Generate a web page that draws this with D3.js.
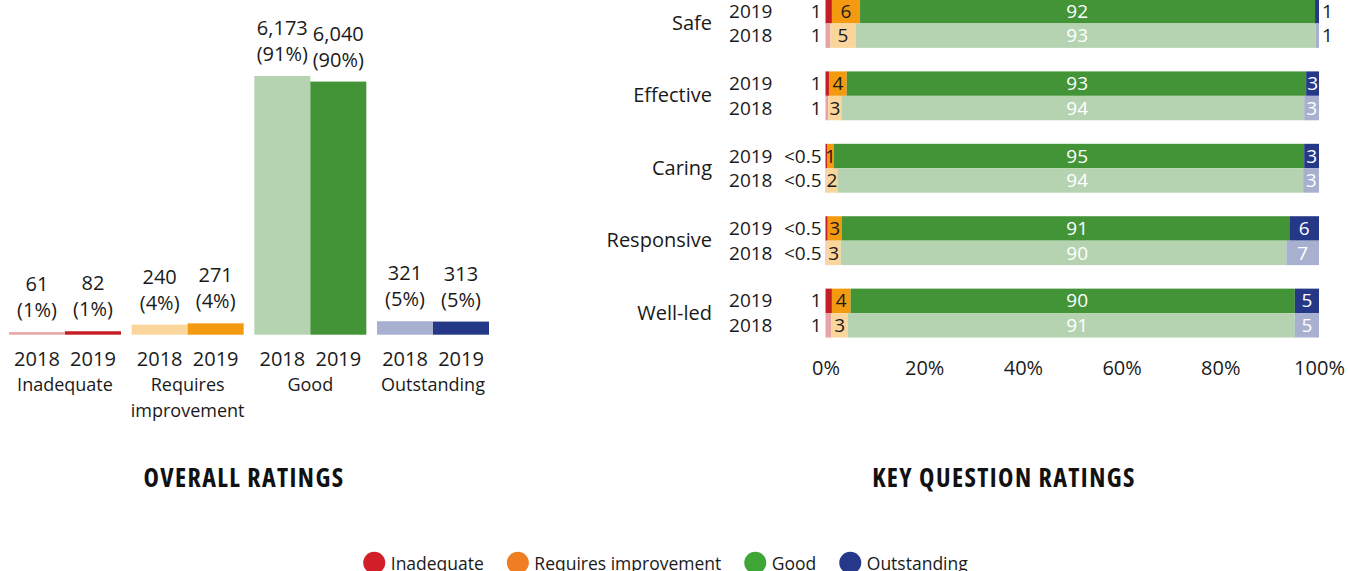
<!DOCTYPE html>
<html><head><meta charset="utf-8">
<script src="https://cdn.jsdelivr.net/npm/d3@7"></script>
<style>
html,body{margin:0;padding:0;background:#fff;}
svg{display:block;font-family:"Open Sans",sans-serif;}
</style></head><body>
<svg id="chart" width="1348" height="571"></svg>
<script>
// ---------- DATA ----------
const overallCategories = ["Inadequate", "Requires improvement", "Good", "Outstanding"];
const overallYears = ["2018", "2019"];
const overall2018 = [61, 240, 6173, 321];
const overall2019 = [82, 271, 6040, 313];
const overallPct2018 = [1, 4, 91, 5];
const overallPct2019 = [1, 4, 90, 5];

const keyQuestions = ["Safe", "Effective", "Caring", "Responsive", "Well-led"];
const kqYears = ["2019", "2018"];
const ratingKeys = ["Inadequate", "Requires improvement", "Good", "Outstanding"];
const kqInadequate2019   = [1.3, 0.7, 0.3, 0.45, 1.3];
const kqRequires2019     = [5.7, 3.6, 1.4, 2.8, 3.8];
const kqGood2019         = [92.2, 93.0, 95.3, 90.6, 90.0];
const kqOutstanding2019  = [0.8, 2.6, 3.0, 6.0, 4.9];
const kqInadequate2018   = [1.0, 0.55, 0.2, 0.2, 1.2];
const kqRequires2018     = [5.1, 2.7, 2.2, 2.9, 3.3];
const kqGood2018         = [93.3, 93.8, 94.4, 90.2, 90.6];
const kqOutstanding2018  = [0.7, 3.0, 3.2, 6.6, 4.9];
const axisTicks = [0, 0.2, 0.4, 0.6, 0.8, 1];

const titles = ["OVERALL RATINGS", "KEY QUESTION RATINGS"];
const legendLabels = ["Inadequate", "Requires improvement", "Good", "Outstanding"];

// ---------- STYLES ----------
const colors2019 = ["#c41e24", "#f39a10", "#439437", "#253887"];
const colors2018 = ["#e6a4a5", "#fad69c", "#b5d3b0", "#a8b0cf"];
const legendColors = ["#d2202a", "#ef7d22", "#3fa535", "#26388a"];
const textColor = "#1a1a1a";

const svg = d3.select("#chart");

// ---------- LEFT: OVERALL RATINGS ----------
const xOuter = d3.scaleBand().domain(overallCategories).range([9, 489]).paddingInner(0.087);
const xInner = d3.scaleBand().domain(overallYears).range([0, xOuter.bandwidth()]);
const allOverall = overall2018.concat(overall2019);
const yLeft = d3.scaleLinear().domain([0, d3.max(allOverall)]).range([334.7, 76]);

const overallRows = [];
overallCategories.forEach((c, i) => {
  overallRows.push({cat: c, year: "2018", v: overall2018[i], p: overallPct2018[i], color: colors2018[i]});
  overallRows.push({cat: c, year: "2019", v: overall2019[i], p: overallPct2019[i], color: colors2019[i]});
});

const left = svg.append("g");
left.selectAll("rect").data(overallRows).join("rect")
  .attr("x", d => xOuter(d.cat) + xInner(d.year))
  .attr("width", xInner.bandwidth())
  .attr("y", d => yLeft(d.v))
  .attr("height", d => yLeft(0) - yLeft(d.v))
  .attr("fill", d => d.color);

const cx = d => xOuter(d.cat) + xInner(d.year) + xInner.bandwidth() / 2;
left.selectAll("text.val").data(overallRows).join("text").attr("class", "val")
  .attr("x", cx).attr("y", d => yLeft(d.v) - 41)
  .attr("text-anchor", "middle").attr("font-size", 20).attr("fill", textColor)
  .text(d => d3.format(",")(d.v));
left.selectAll("text.pct").data(overallRows).join("text").attr("class", "pct")
  .attr("x", cx).attr("y", d => yLeft(d.v) - 15)
  .attr("text-anchor", "middle").attr("font-size", 20).attr("fill", textColor)
  .text(d => "(" + d.p + "%)");
left.selectAll("text.yr").data(overallRows).join("text").attr("class", "yr")
  .attr("x", cx).attr("y", 366)
  .attr("text-anchor", "middle").attr("font-size", 20).attr("fill", textColor)
  .text(d => d.year);
const catText = left.selectAll("text.cat").data(overallCategories).join("text").attr("class", "cat")
  .attr("text-anchor", "middle").attr("font-size", 18).attr("fill", textColor);
catText.each(function(c) {
  const words = c.split(" ");
  const t = d3.select(this);
  words.forEach((w, j) => {
    t.append("tspan").attr("x", xOuter(c) + xOuter.bandwidth() / 2).attr("y", 391 + j * 25.5).text(w);
  });
});

// ---------- RIGHT: KEY QUESTION RATINGS ----------
const xR = d3.scaleLinear().domain([0, 1]).range([825.5, 1319]);
const yOuter = d3.scaleBand().domain(keyQuestions).range([-1, 337.5]).paddingInner(0.325);
const yInner = d3.scaleBand().domain(kqYears).range([0, yOuter.bandwidth()]);

const kqSeries = {
  "2019": [kqInadequate2019, kqRequires2019, kqGood2019, kqOutstanding2019],
  "2018": [kqInadequate2018, kqRequires2018, kqGood2018, kqOutstanding2018]
};
const kqRows = [];
keyQuestions.forEach((q, i) => {
  kqYears.forEach(y => {
    const row = {q: q, year: y};
    ratingKeys.forEach((k, j) => { row[k] = kqSeries[y][j][i]; });
    kqRows.push(row);
  });
});
const stacked = d3.stack().keys(ratingKeys).offset(d3.stackOffsetExpand)(kqRows);

const right = svg.append("g");
const bh = yInner.bandwidth();
const rowY = d => yOuter(d.data.q) + yInner(d.data.year);
stacked.forEach((s, k) => {
  right.append("g").selectAll("rect").data(s).join("rect")
    .attr("x", d => xR(d[0]))
    .attr("width", d => xR(d[1]) - xR(d[0]))
    .attr("y", rowY)
    .attr("height", bh)
    .attr("fill", d => (d.data.year === "2019" ? colors2019 : colors2018)[k]);
});

const fmtPct = v => v < 0.5 ? "<0.5" : String(Math.round(v));
const lblSize = 19;
stacked.forEach((s, k) => {
  right.append("g").selectAll("text").data(s).join("text")
    .attr("font-size", lblSize)
    .attr("y", d => rowY(d) + bh / 2 + 0.35 * lblSize)
    .each(function(d) {
      const t = d3.select(this);
      const v = d.data[s.key];
      const w = xR(d[1]) - xR(d[0]);
      let x, anchor = "middle", fill = textColor;
      if (k === 0) { x = xR(0) - 4; anchor = "end"; }
      else if (k === 1) { x = (xR(d[0]) + xR(d[1])) / 2; }
      else if (k === 2) { x = xR(0.51); fill = "#ffffff"; }
      else {
        if (w >= 10) { x = (xR(d[0]) + xR(d[1])) / 2; fill = "#ffffff"; }
        else { x = xR(1) + 3; anchor = "start"; }
      }
      t.attr("x", x).attr("text-anchor", anchor).attr("fill", fill).text(fmtPct(v));
    });
});

// year labels
right.selectAll("text.kyr").data(kqRows).join("text").attr("class", "kyr")
  .attr("x", 772.5)
  .attr("y", d => yOuter(d.q) + yInner(d.year) + bh / 2 + 0.35 * 19)
  .attr("text-anchor", "end").attr("font-size", 19).attr("fill", textColor)
  .text(d => d.year);
// question labels
right.selectAll("text.kq").data(keyQuestions).join("text").attr("class", "kq")
  .attr("x", 712)
  .attr("y", d => yOuter(d) + yOuter.bandwidth() / 2 + 0.33 * 20)
  .attr("text-anchor", "end").attr("font-size", 20).attr("fill", textColor)
  .text(d => d);

// x axis
const axisG = right.append("g").attr("transform", "translate(0,375)")
  .call(d3.axisBottom(xR).tickValues(axisTicks).tickFormat(d3.format(".0%")).tickSize(0));
axisG.select(".domain").remove();
axisG.selectAll("text").attr("y", 0).attr("dy", 0).attr("font-size", 20)
  .attr("font-family", "Open Sans, sans-serif").attr("fill", textColor);

// ---------- TITLES ----------
function textWidth(str, attrs) {
  const t = svg.append("text").text(str);
  Object.entries(attrs).forEach(([k, v]) => t.style(k, v));
  const w = t.node().getComputedTextLength();
  t.remove();
  return w;
}
const wNormal = textWidth(titles[0], {"font-family": "Open Sans", "font-weight": 700, "font-size": "20px"});
const wCond = textWidth(titles[0], {"font-family": "Open Sans", "font-weight": 700, "font-size": "20px", "font-stretch": "75%"});
const titleStyle = (wCond / wNormal < 0.95)
  ? {family: "Open Sans", stretch: "75%", size: "26px", spacing: "1.4px"}
  : {family: "Liberation Sans Narrow", stretch: "100%", size: "25px", spacing: "0px"};
const titleX = [244, 1004];
svg.selectAll("text.title").data(titles).join("text").attr("class", "title")
  .attr("x", (d, i) => titleX[i]).attr("y", 487)
  .attr("text-anchor", "middle")
  .style("font-family", titleStyle.family).style("font-stretch", titleStyle.stretch)
  .style("letter-spacing", titleStyle.spacing)
  .style("font-weight", 700).style("font-size", titleStyle.size).attr("fill", "#111")
  .text(d => d);

// ---------- LEGEND ----------
const legend = svg.append("g");
const lr = 11, lgap = 5.5, litemGap = 23, lfs = 17.5;
let lx = 0;
const items = legendLabels.map((l, i) => {
  const w = textWidth(l, {"font-family": "Open Sans", "font-size": lfs + "px"});
  const it = {label: l, color: legendColors[i], x: lx};
  lx += 2 * lr + lgap + w + litemGap;
  return it;
});
const totalW = lx - litemGap;
const lx0 = 665.5 - totalW / 2;
const li = legend.selectAll("g").data(items).join("g")
  .attr("transform", d => `translate(${lx0 + d.x},0)`);
li.append("circle").attr("cx", lr).attr("cy", 562.7).attr("r", lr).attr("fill", d => d.color);
li.append("text").attr("x", 2 * lr + lgap).attr("y", 569.5)
  .attr("font-size", lfs).attr("fill", textColor).text(d => d.label);
</script>
</body></html>
